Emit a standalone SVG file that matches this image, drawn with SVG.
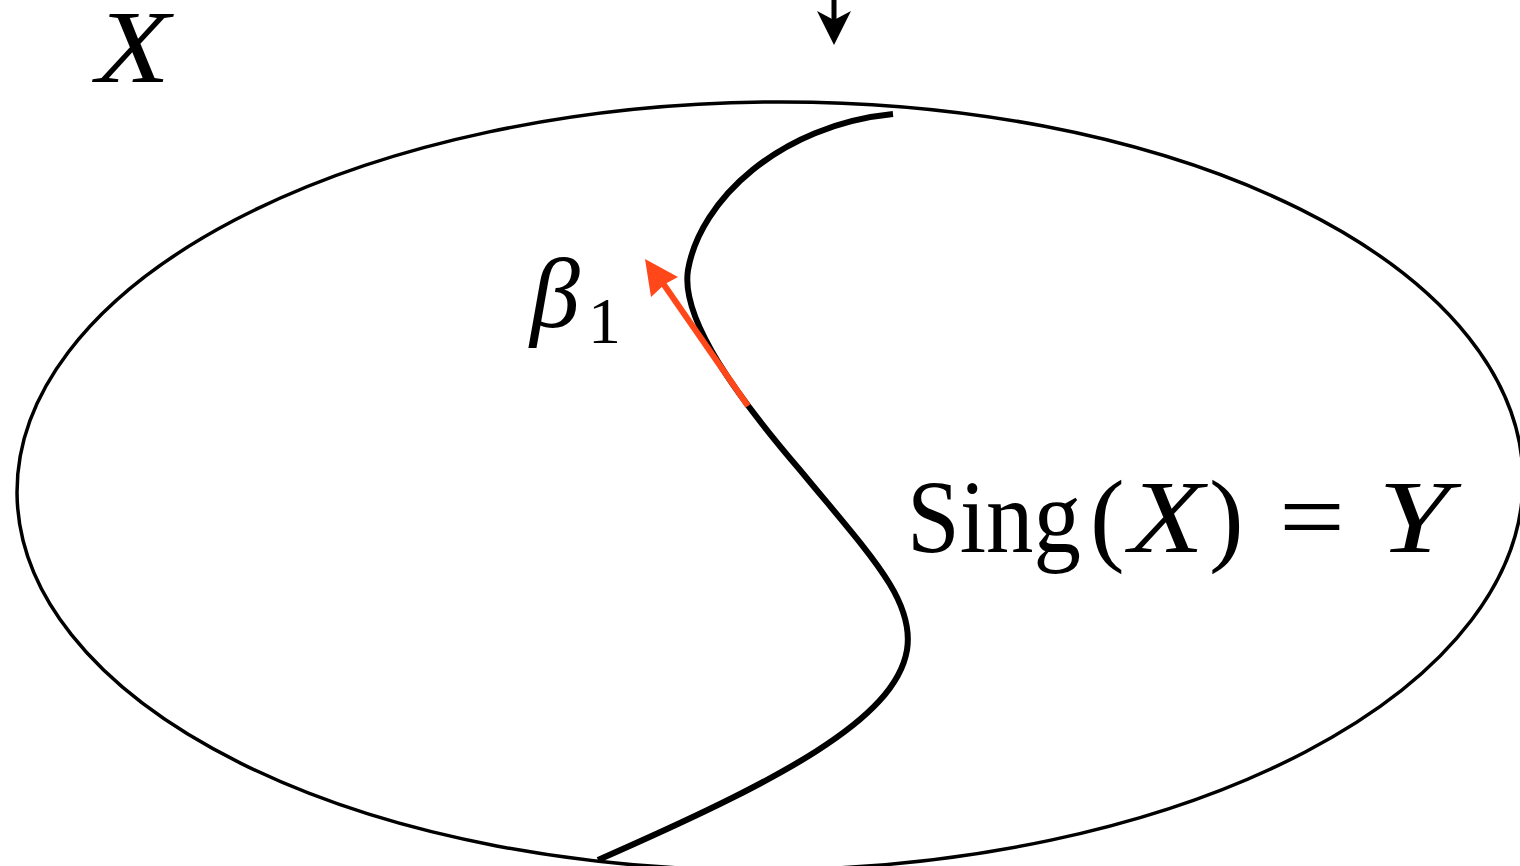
<svg xmlns="http://www.w3.org/2000/svg" width="1520" height="866" viewBox="0 0 1520 866">
<style>
.t{font-family:"Liberation Serif","DejaVu Serif",serif;fill:#000}
.i{font-style:italic}
.big{font-size:104px}
</style>
<rect width="1520" height="866" fill="#fff"/>
<g id="space">
<ellipse cx="770" cy="486" rx="753" ry="384" fill="none" stroke="#000" stroke-width="3.5" transform="rotate(-0.6 770 486)"/>
</g>
<g id="curve">
<path d="M893,114 C780,125 700,200 688,270 C680,320 740,400 800,470 C870,555 915,600 907,650 C895,720 780,780 598,860" fill="none" stroke="#000" stroke-width="6"/>
</g>
<g id="connectors">
<line x1="834" y1="0" x2="834" y2="22" stroke="#000" stroke-width="5"/>
<path d="M834,45 L817,11 L834,20 L851,11 Z" fill="#000"/>
<line x1="748" y1="406" x2="660" y2="279" stroke="#FF4719" stroke-width="6"/>
<path d="M645,259 L678,277 L665,284 L651,297 Z" fill="#FF4719"/>
</g>
<g id="labels">
<text class="t i big" x="96" y="82" textLength="74" lengthAdjust="spacingAndGlyphs">X</text>
<text class="t i" x="530" y="327" font-size="100">β</text>
<text class="t" x="588" y="343" font-size="66">1</text>
<text class="t big" x="907" y="552" textLength="174" lengthAdjust="spacingAndGlyphs">Sing</text>
<text class="t big" x="1090" y="552">(</text>
<text class="t i big" x="1129" y="552" textLength="75" lengthAdjust="spacingAndGlyphs">X</text>
<text class="t big" x="1209" y="552">)</text>
<text class="t big" x="1279" y="552" textLength="66" lengthAdjust="spacingAndGlyphs">=</text>
<text class="t i big" x="1378" y="552" textLength="72" lengthAdjust="spacingAndGlyphs">Y</text>
</g>
</svg>
